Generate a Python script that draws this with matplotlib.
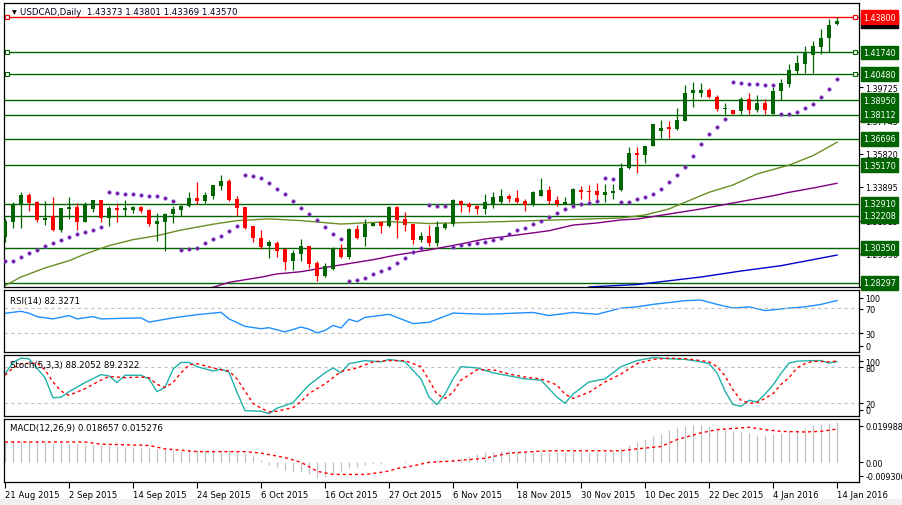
import matplotlib
matplotlib.use("Agg")
import matplotlib.pyplot as plt
import matplotlib.transforms as mtransforms
from matplotlib.patches import Rectangle

# ---- price data (USDCAD daily) ----
opens = [1.3097, 1.3185, 1.3286, 1.3342, 1.3302, 1.3198, 1.3222, 1.3140, 1.3261, 1.3271,
         1.3183, 1.3261, 1.3313, 1.3210, 1.3268, 1.3257, 1.3257, 1.3274, 1.3257, 1.3175,
         1.3187, 1.3232, 1.3255, 1.3277, 1.3325, 1.3307, 1.3338, 1.3397, 1.3424, 1.3319,
         1.3271, 1.3160, 1.3092, 1.3043, 1.3063, 1.3028, 1.2958, 1.3000, 1.3043, 1.2946,
         1.2872, 1.2911, 1.3028, 1.2979, 1.3144, 1.3096, 1.3163, 1.3183, 1.3160, 1.3271,
         1.3203, 1.3173, 1.3082, 1.3102, 1.3063, 1.3150, 1.3173, 1.3309, 1.3290, 1.3277,
         1.3261, 1.3290, 1.3300, 1.3338, 1.3325, 1.3309, 1.3286, 1.3338, 1.3372, 1.3313,
         1.3290, 1.3290, 1.3372, 1.3368, 1.3368, 1.3344, 1.3354, 1.3372, 1.3498, 1.3587,
         1.3577, 1.3626, 1.3717, 1.3737, 1.3727, 1.3776, 1.3935, 1.3935, 1.3955, 1.3916,
         1.3843, 1.3837, 1.3833, 1.3902, 1.3837, 1.3878, 1.3814, 1.3950, 1.3990, 1.4068,
         1.4107, 1.4161, 1.4208, 1.4257, 1.43373]
highs = [1.3208, 1.3302, 1.3360, 1.3354, 1.3309, 1.3309, 1.3331, 1.3267, 1.3331, 1.3296,
         1.3300, 1.3313, 1.3313, 1.3277, 1.3296, 1.3313, 1.3280, 1.3280, 1.3261, 1.3236,
         1.3238, 1.3277, 1.3284, 1.3358, 1.3420, 1.3358, 1.3401, 1.3459, 1.3436, 1.3335,
         1.3273, 1.3162, 1.3140, 1.3082, 1.3076, 1.3028, 1.3022, 1.3086, 1.3045, 1.2959,
         1.2946, 1.3041, 1.3057, 1.3150, 1.3168, 1.3203, 1.3179, 1.3193, 1.3280, 1.3280,
         1.3242, 1.3173, 1.3125, 1.3168, 1.3193, 1.3187, 1.3319, 1.3313, 1.3300, 1.3284,
         1.3348, 1.3358, 1.3377, 1.3348, 1.3372, 1.3319, 1.3364, 1.3442, 1.3397, 1.3338,
         1.3333, 1.3382, 1.3397, 1.3401, 1.3412, 1.3407, 1.3407, 1.3529, 1.3624, 1.3624,
         1.3626, 1.3756, 1.3780, 1.3772, 1.3848, 1.3984, 1.4003, 1.3994, 1.3965, 1.3924,
         1.3882, 1.3837, 1.3912, 1.3937, 1.3925, 1.3902, 1.3970, 1.4019, 1.4107, 1.4161,
         1.4212, 1.4241, 1.4311, 1.4369, 1.43801]
lows = [1.3068, 1.3150, 1.3150, 1.3251, 1.3185, 1.3168, 1.3134, 1.3129, 1.3203, 1.3140,
        1.3183, 1.3242, 1.3187, 1.3160, 1.3183, 1.3219, 1.3238, 1.3238, 1.3163, 1.3076,
        1.3018, 1.3179, 1.3222, 1.3271, 1.3290, 1.3296, 1.3319, 1.3373, 1.3307, 1.3222,
        1.3144, 1.3067, 1.3028, 1.2977, 1.2979, 1.2907, 1.2907, 1.2959, 1.2915, 1.2843,
        1.2863, 1.2907, 1.2973, 1.2969, 1.3086, 1.3043, 1.3163, 1.3121, 1.3154, 1.3092,
        1.3134, 1.3057, 1.3070, 1.3047, 1.3047, 1.3144, 1.3160, 1.3245, 1.3245, 1.3232,
        1.3232, 1.3267, 1.3290, 1.3300, 1.3294, 1.3251, 1.3277, 1.3335, 1.3290, 1.3280,
        1.3290, 1.3290, 1.3319, 1.3309, 1.3300, 1.3300, 1.3319, 1.3368, 1.3494, 1.3473,
        1.3529, 1.3626, 1.3675, 1.3673, 1.3723, 1.3776, 1.3854, 1.3912, 1.3906, 1.3833,
        1.3814, 1.3814, 1.3814, 1.3814, 1.3824, 1.3814, 1.3814, 1.3898, 1.3971, 1.4048,
        1.4054, 1.4054, 1.4165, 1.4178, 1.43369]
closes = [1.3191, 1.3290, 1.3342, 1.3296, 1.3198, 1.3208, 1.3140, 1.3265, 1.3271, 1.3183,
          1.3284, 1.3313, 1.3210, 1.3268, 1.3257, 1.3268, 1.3274, 1.3251, 1.3173, 1.3193,
          1.3232, 1.3261, 1.3280, 1.3325, 1.3307, 1.3342, 1.3401, 1.3424, 1.3313, 1.3268,
          1.3150, 1.3094, 1.3038, 1.3067, 1.3018, 1.2950, 1.3004, 1.3043, 1.2940, 1.2872,
          1.2927, 1.3028, 1.2981, 1.3144, 1.3090, 1.3173, 1.3179, 1.3163, 1.3274, 1.3198,
          1.3169, 1.3082, 1.3102, 1.3063, 1.3154, 1.3172, 1.3313, 1.3286, 1.3273, 1.3261,
          1.3300, 1.3329, 1.3335, 1.3319, 1.3300, 1.3284, 1.3358, 1.3372, 1.3309, 1.3290,
          1.3300, 1.3377, 1.3362, 1.3362, 1.3344, 1.3362, 1.3368, 1.3500, 1.3587, 1.3576,
          1.3626, 1.3756, 1.3733, 1.3727, 1.3780, 1.3937, 1.3955, 1.3955, 1.3914, 1.3843,
          1.3847, 1.3814, 1.3902, 1.3837, 1.3877, 1.3837, 1.3947, 1.3996, 1.4072, 1.4113,
          1.4168, 1.4212, 1.4258, 1.4334, 1.43570]

# parabolic SAR dots
sar = [1.2959, 1.2959, 1.2979, 1.3003, 1.3020, 1.3043, 1.3061, 1.3080, 1.3096, 1.3113,
       1.3127, 1.3138, 1.3154, 1.3358, 1.3352, 1.3346, 1.3346, 1.3341, 1.3338, 1.3335,
       1.3323, 1.3306, 1.3020, 1.3028, 1.3035, 1.3061, 1.3086, 1.3102, 1.3131, 1.3160,
       1.3457, 1.3451, 1.3440, 1.3411, 1.3376, 1.3346, 1.3306, 1.3265, 1.3230, 1.3195,
       1.3154, 1.3113, 1.3086, 1.2839, 1.2845, 1.2859, 1.2880, 1.2898, 1.2917, 1.2944,
       1.2977, 1.3008, 1.3035, 1.3282, 1.3277, 1.3277, 1.3041, 1.3053, 1.3057, 1.3061,
       1.3067, 1.3078, 1.3094, 1.3113, 1.3137, 1.3152, 1.3172, 1.3191, 1.3212, 1.3238,
       1.3259, 1.3277, 1.3288, 1.3296, 1.3309, 1.3440, 1.3434, 1.3300, 1.3300, 1.3317,
       1.3333, 1.3346, 1.3376, 1.3416, 1.3457, 1.3504, 1.3568, 1.3638, 1.3696, 1.3742,
       1.3784, 1.3999, 1.3994, 1.3988, 1.3988, 1.3982, 1.3982, 1.3813, 1.3813, 1.3825,
       1.3848, 1.3871, 1.3912, 1.3959, 1.4017]

# moving averages (bar index, value)
ma_olive_idx = [0, 2, 5, 8, 10, 13, 16, 19, 22, 26, 29, 33, 37, 42, 48, 53, 62, 69, 77, 80,
                83, 85, 88, 91, 94, 98, 101, 104]
ma_olive = [1.2814, 1.2864, 1.2917, 1.2959, 1.2998, 1.3047, 1.3082, 1.3105, 1.3138, 1.3172,
            1.3193, 1.3203, 1.3193, 1.3173, 1.3187, 1.3176, 1.3187, 1.3197, 1.3208, 1.3226,
            1.3261, 1.3300, 1.3358, 1.3401, 1.3465, 1.3517, 1.3572, 1.3650]
ma_purple_idx = [24, 26, 28, 32, 34, 37, 41, 46, 49, 53, 57, 60, 64, 68, 71, 74, 77, 79,
                 87, 91, 96, 98, 101, 104]
ma_purple = [1.2790, 1.2804, 1.2833, 1.2863, 1.2882, 1.2895, 1.2927, 1.2965, 1.2993, 1.3022,
             1.3057, 1.3086, 1.3109, 1.3134, 1.3167, 1.3179, 1.3197, 1.3202, 1.3261, 1.3296,
             1.3338, 1.3358, 1.3383, 1.3411]
ma_blue_idx = [73, 79, 87, 92, 97, 104]
ma_blue = [1.2806, 1.2820, 1.2864, 1.2899, 1.2930, 1.2992]

green_levels = [1.41740, 1.40480, 1.38950, 1.38112, 1.36696, 1.35170,
                1.32910, 1.32208, 1.30350, 1.28297]
red_level = 1.43800
last_close = 1.43570
price_ticks = [1.39725, 1.37745, 1.35820, 1.33895, 1.31915, 1.29990, 1.28065]

# RSI(14)
rsi_idx = [0, 2, 3, 4, 6, 8, 9, 11, 12, 17, 18, 21, 24, 27, 28, 30, 32, 33, 35, 37, 38, 39,
           40, 41, 42, 43, 44, 45, 48, 49, 51, 53, 54, 56, 60, 64, 66, 68, 71, 74, 77, 79,
           81, 85, 87, 89, 91, 93, 95, 97, 98, 100, 102, 104]
rsi = [61.7, 64.8, 61.7, 56.3, 52.6, 57.9, 52.6, 56.3, 52.6, 54.2, 47.4, 54.2, 59.4, 63.2,
       52.6, 40.5, 36.8, 38.4, 31.6, 39.5, 36, 30, 34, 42, 38, 52, 48, 55, 60, 55, 45, 47,
       52, 62, 60, 62, 63, 58, 63, 60, 70, 72, 76, 82, 83, 76, 70, 72, 66, 68.5, 70, 72, 76,
       82.33]

# Stochastic(5,3,3)
sto_idx = [0, 1, 2, 3, 5, 6, 7, 8, 10, 12, 13, 14, 15, 17, 18, 19, 20, 21, 22, 23, 24, 26,
           27, 28, 29, 30, 32, 33, 34, 36, 37, 38, 40, 41, 42, 43, 45, 47, 48, 50, 52, 53,
           54, 55, 56, 57, 59, 61, 63, 65, 67, 69, 70, 71, 73, 75, 77, 79, 81, 83, 85, 87,
           88, 89, 90, 91, 92, 93, 94, 95, 96, 97, 98, 99, 101, 102, 103, 104]
sto_main = [68, 87, 94, 93, 62, 29, 30, 39, 54, 67, 65, 54, 66, 66, 60, 39, 46, 76, 87, 87,
            80, 73, 76, 71, 38, 8, 7, 3, 12, 21, 36, 50, 70, 78, 70, 85, 90, 88, 92, 88, 60,
            30, 18, 35, 60, 80, 78, 70, 65, 60, 58, 30, 20, 35, 55, 60, 80, 90, 95, 93, 92,
            88, 85, 70, 40, 18, 15, 25, 22, 35, 50, 69, 86, 89, 90, 90, 86, 88.21]
sig_idx = [0, 1, 2, 4, 5, 6, 7, 8, 10, 12, 13, 15, 17, 18, 19, 20, 21, 22, 23, 24, 26, 27,
           28, 29, 30, 31, 32, 33, 34, 36, 37, 38, 40, 42, 44, 46, 48, 50, 52, 53, 54, 55,
           56, 57, 59, 61, 63, 65, 67, 69, 70, 71, 73, 75, 77, 79, 81, 83, 85, 87, 88, 89,
           90, 91, 92, 93, 94, 95, 96, 97, 98, 99, 100, 101, 103, 104]
sto_sig = [66, 78, 85, 86, 75, 55, 40, 33, 44, 58, 64, 62, 63, 62, 51, 46, 54, 70, 83, 85,
           78, 75, 73, 60, 40, 20, 12, 6, 7, 13, 23, 36, 52, 72, 78, 88, 90, 90, 80, 58, 35,
           28, 38, 58, 75, 75, 68, 63, 60, 50, 35, 28, 38, 55, 68, 85, 92, 94, 93, 90, 88,
           80, 65, 42, 25, 20, 21, 28, 36, 51, 62, 78, 85, 89, 88, 89.23]

# MACD(12,26,9): main histogram per bar, signal line (bar index, value)
macd = [0.0092, 0.0098, 0.0098, 0.0098, 0.0095, 0.0092, 0.0087, 0.0087, 0.0085, 0.0082,
        0.0082, 0.0080, 0.0079, 0.0076, 0.0073, 0.0070, 0.0068, 0.0065, 0.0063, 0.0060,
        0.0057, 0.0054, 0.0051, 0.0053, 0.0055, 0.0055, 0.0056, 0.0056, 0.0055, 0.0050,
        0.0040, 0.0028, 0.0008, -0.0016, -0.0024, -0.0040, -0.0050, -0.0050, -0.0060, -0.0075,
        -0.0071, -0.0055, -0.0045, -0.0030, -0.0025, -0.0018, -0.0012, -0.0010, -0.0004, 0.0000,
        0.0002, 0.0000, 0.0002, 0.0003, 0.0006, 0.0009, 0.0013, 0.0019, 0.0028, 0.0035,
        0.0043, 0.0047, 0.0051, 0.0051, 0.0047, 0.0047, 0.0047, 0.0047, 0.0047, 0.0047,
        0.0047, 0.0047, 0.0047, 0.0047, 0.0047, 0.0047, 0.0051, 0.0066, 0.0079, 0.0090,
        0.0108, 0.0119, 0.0130, 0.0150, 0.0161, 0.0166, 0.0174, 0.0171, 0.0166, 0.0158,
        0.0150, 0.0142, 0.0139, 0.0135, 0.0127, 0.0127, 0.0130, 0.0135, 0.0142, 0.0150,
        0.0158, 0.0171, 0.0177, 0.0182, 0.018657]
macd_sig_idx = [0, 10, 12, 18, 20, 24, 30, 32, 35, 37, 38, 39, 41, 45, 47, 48, 49, 51, 53,
                56, 60, 63, 66, 68, 77, 79, 82, 84, 87, 89, 93, 95, 97, 100, 102, 104]
macd_sig = [0.0092, 0.0092, 0.0082, 0.0076, 0.0060, 0.0047, 0.0047, 0.0040, 0.0019, -0.0003,
            -0.0024, -0.0045, -0.0060, -0.0060, -0.0050, -0.0044, -0.0032, -0.0020, -0.0003,
            0.0003, 0.0016, 0.0040, 0.0047, 0.0051, 0.0051, 0.0060, 0.0071, 0.0103, 0.0135,
            0.0150, 0.0161, 0.0150, 0.0142, 0.0139, 0.0142, 0.015276]

date_idx = [0, 8, 16, 24, 32, 40, 48, 56, 64, 72, 80, 88, 96, 104]
date_labels = ["21 Aug 2015", "2 Sep 2015", "14 Sep 2015", "24 Sep 2015", "6 Oct 2015",
               "16 Oct 2015", "27 Oct 2015", "6 Nov 2015", "18 Nov 2015", "30 Nov 2015",
               "10 Dec 2015", "22 Dec 2015", "4 Jan 2016", "14 Jan 2016"]

# ---- layout ----
W, H = 903, 506
FS = 5.8
GREEN = "#006400"


def rect(x0, y0, x1, y1):
    return [x0 / W, 1 - y1 / H, (x1 - x0) / W, (y1 - y0) / H]


def right_labels(a, y0, y1, vmin, vmax, rows):
    # MT4 puts the scale texts at fixed pixel rows, tick mark next to each text
    pos, txt = [], []
    for ypix, label in rows:
        pos.append(vmax - (ypix - y0) / (y1 - y0) * (vmax - vmin))
        txt.append(label)
    a.set_yticks(pos)
    a.set_yticklabels(txt)


fig = plt.figure(figsize=(W / 100, H / 100), dpi=100)
fig.patch.set_facecolor("white")
fig.patches.append(Rectangle((0, 0), 1, 6 / H, transform=fig.transFigure,
                             color="#f0f0f0", zorder=-1))

ax = fig.add_axes(rect(4, 4, 859, 288))
ax_rsi = fig.add_axes(rect(4, 290.5, 859, 352.5))
ax_sto = fig.add_axes(rect(4, 355.5, 859, 416.5))
ax_macd = fig.add_axes(rect(4, 420, 859, 482.5))

xs = list(range(len(closes)))
for a in (ax, ax_rsi, ax_sto, ax_macd):
    a.set_xlim(-0.125, 106.75)
    a.set_xticks([])
    for s in a.spines.values():
        s.set_linewidth(0.9)
        s.set_color("black")
    a.yaxis.tick_right()
    a.tick_params(axis="y", length=3, width=0.8, pad=1.5, labelsize=FS, direction="out")

# ---- main chart ----
ax.set_ylim(1.28057, 1.44626)
for lv in green_levels:
    ax.axhline(lv, color=GREEN, lw=1.0, zorder=1)
ax.axhline(red_level, color="red", lw=1.0, zorder=1)

# candles
for i in xs:
    o, h, l, c = opens[i], highs[i], lows[i], closes[i]
    col = GREEN if c >= o else "#ff0000"
    ax.vlines(i, l, h, color=col, lw=0.9, zorder=3)
    body = max(abs(c - o), 0.00045)
    ax.bar(i, body, bottom=min(o, c), width=0.62, color=col, lw=0, zorder=4)

ax.plot(ma_olive_idx, ma_olive, color="#6b8e23", lw=1.0, zorder=2)
ax.plot(ma_purple_idx, ma_purple, color="#800080", lw=1.0, zorder=2)
ax.plot(ma_blue_idx, ma_blue, color="#0000cd", lw=1.0, zorder=2)
ax.plot(xs, sar, ls="none", marker="o", ms=2.5, mfc="#800080", mec="#7b68ee",
        mew=0.5, zorder=5)

# selected-object markers at line ends
for lv, col in ((red_level, "red"), (green_levels[0], GREEN), (green_levels[1], GREEN)):
    ax.plot([0.31, 106.3], [lv, lv], ls="none", marker="s", ms=3.2, mfc="white",
            mec=col, mew=0.8, zorder=6, clip_on=False)

ax.set_yticks(price_ticks)
ax.set_yticklabels([f"{p:.5f}" for p in price_ticks])

trans = mtransforms.blended_transform_factory(ax.transAxes, ax.transData)
box_x = 1.0047
ax.text(box_x, last_close, f"{last_close:.5f}", transform=trans, ha="left", va="center",
        fontsize=FS, color="white", zorder=7, clip_on=False,
        bbox=dict(boxstyle="square,pad=0.3", fc="black", ec="black"))
ax.text(box_x, red_level, f"{red_level:.5f}", transform=trans, ha="left", va="center",
        fontsize=FS, color="white", zorder=8, clip_on=False,
        bbox=dict(boxstyle="square,pad=0.3", fc="red", ec="red"))
for lv in green_levels:
    ax.text(box_x, lv, f"{lv:.5f}", transform=trans, ha="left", va="center",
            fontsize=FS, color="white", zorder=7, clip_on=False,
            bbox=dict(boxstyle="square,pad=0.3", fc=GREEN, ec=GREEN))

ax.text(7.5 / 855, 0.969, "\u25bc", transform=ax.transAxes, fontsize=4.5,
        va="center", ha="left", color="black")
ax.text(16 / 855, 0.969, "USDCAD,Daily  1.43373 1.43801 1.43369 1.43570",
        transform=ax.transAxes, fontsize=FS + 0.4, va="center", ha="left", color="#000020")

# ---- RSI ----
ax_rsi.set_ylim(0, 100)
ax_rsi.plot(rsi_idx, rsi, color="#1e90ff", lw=1.0)
for lv in (70, 30):
    ax_rsi.axhline(lv, color="#c0c0c0", lw=0.8, ls=(0, (3, 3)))
right_labels(ax_rsi, 290.5, 352.5, 0, 100,
             [(299, "100"), (310, "70"), (334.3, "30"), (346.7, "0")])
ax_rsi.text(0.0065, 0.83, "RSI(14) 82.3271", transform=ax_rsi.transAxes, fontsize=FS + 0.4,
            va="center", ha="left")

# ---- Stochastic ----
ax_sto.set_ylim(0, 100)
for lv in (80, 20):
    ax_sto.axhline(lv, color="#c0c0c0", lw=0.8, ls=(0, (3, 3)))
ax_sto.plot(sto_idx, sto_main, color="#20b2aa", lw=1.0)
ax_sto.plot(sig_idx, sto_sig, color="red", lw=1.0, ls=(0, (2.2, 2.2)))
right_labels(ax_sto, 355.5, 416.5, 0, 100,
             [(362.3, "100"), (368.3, "80"), (404, "20"), (410.7, "0")])
ax_sto.text(0.0065, 0.84, "Stoch(5,3,3) 88.2052 89.2322", transform=ax_sto.transAxes,
            fontsize=FS + 0.4, va="center", ha="left")

# ---- MACD ----
ax_macd.set_ylim(-0.009306, 0.019988)
ax_macd.vlines(xs, 0, macd, color="#c0c0c0", lw=0.9)
ax_macd.plot(macd_sig_idx, macd_sig, color="red", lw=1.0, ls=(0, (2.2, 2.2)))
right_labels(ax_macd, 420, 482.5, -0.009306, 0.019988,
             [(426.7, "0.019988"), (463.3, "0.00"), (476.7, "-0.009306")])
ax_macd.text(0.0065, 0.87, "MACD(12,26,9) 0.018657 0.015276", transform=ax_macd.transAxes,
             fontsize=FS + 0.4, va="center", ha="left")

ax_macd.set_xticks(date_idx)
ax_macd.set_xticklabels(date_labels, fontsize=FS + 0.3, ha="left")
ax_macd.tick_params(axis="x", length=4, width=0.8, pad=2, direction="out")

fig.savefig("out.png", dpi=100, facecolor=fig.get_facecolor())
